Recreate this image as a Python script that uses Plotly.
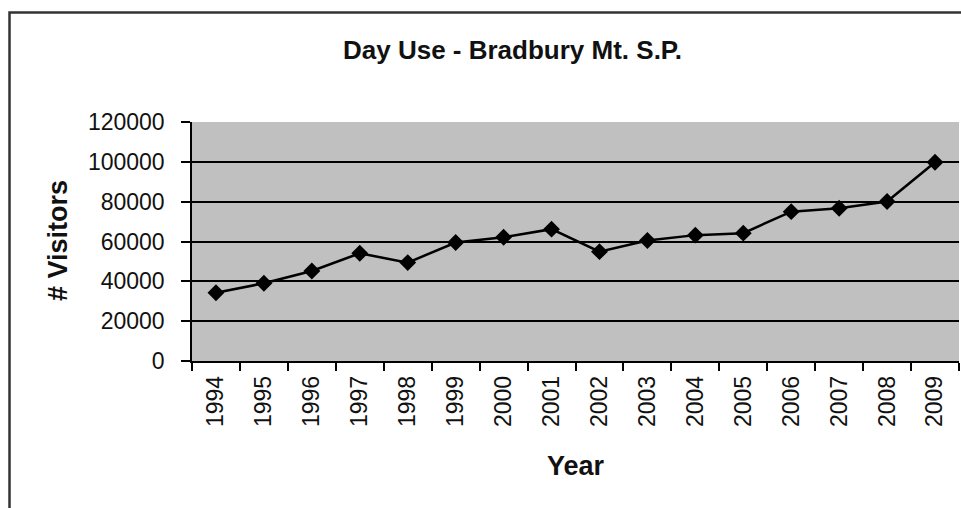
import plotly.graph_objects as go

years = ["1994", "1995", "1996", "1997", "1998", "1999", "2000", "2001",
         "2002", "2003", "2004", "2005", "2006", "2007", "2008", "2009"]
visitors = [34300, 39000, 45200, 54100, 49400, 59500, 62100, 66200,
            54900, 60500, 63200, 64200, 75000, 76700, 80100, 99800]
y_ticks = [0, 20000, 40000, 60000, 80000, 100000, 120000]

title_text = "Day Use - Bradbury Mt. S.P."
x_title = "Year"
y_title = "# Visitors"

FONT = "Liberation Sans, Arial, sans-serif"

fig = go.Figure()
fig.add_trace(go.Scatter(
    x=years, y=visitors, mode="lines+markers",
    line=dict(color="black", width=2.5),
    marker=dict(symbol="diamond", size=13, color="black"),
    showlegend=False, hoverinfo="x+y",
))

W, H = 961, 508
L, R, T, B = 192, 2, 122, 147
pw = W - L - R
ph = H - T - B

def px(x):
    return (x - L) / pw

def py(y):
    return (H - B - y) / ph

fig.update_layout(
    width=W, height=H,
    margin=dict(l=L, r=R, t=T, b=B, pad=0),
    paper_bgcolor="white",
    plot_bgcolor="#c0c0c0",
    font=dict(family=FONT, color="#111111", size=23),
    showlegend=False,
)

fig.update_xaxes(
    type="category",
    tickson="boundaries",
    ticks="outside", ticklen=8, tickwidth=1.5, tickcolor="black",
    tickangle=-90,
    ticklabelstandoff=4,
    tickfont=dict(size=23, family=FONT, color="#111111"),
    showline=True, linecolor="black", linewidth=1.5,
    showgrid=False, zeroline=False,
    range=[-0.5, len(years) - 0.5],
    fixedrange=True,
)

fig.update_yaxes(
    range=[0, 120000],
    tickvals=y_ticks,
    ticktext=[str(v) for v in y_ticks],
    ticks="outside", ticklen=9, tickwidth=1.5, tickcolor="black",
    ticklabelstandoff=12,
    tickfont=dict(size=23, family=FONT, color="#111111"),
    showline=True, linecolor="black", linewidth=1.5,
    showgrid=True, gridcolor="black", gridwidth=1.5,
    zeroline=False,
    fixedrange=True,
)

# Title
fig.add_annotation(
    text=title_text, xref="paper", yref="paper",
    x=px(512), y=py(50), xanchor="center", yanchor="middle",
    showarrow=False, font=dict(size=26, family=FONT, color="#111111", weight="bold"),
)
# Axis titles
fig.add_annotation(
    text=x_title, xref="paper", yref="paper",
    x=px(576), y=py(466), xanchor="center", yanchor="middle",
    showarrow=False, font=dict(size=27, family=FONT, color="#111111", weight="bold"),
)
fig.add_annotation(
    text=y_title, xref="paper", yref="paper",
    x=px(58), y=py(241), xanchor="center", yanchor="middle", textangle=-90,
    showarrow=False, font=dict(size=27, family=FONT, color="#111111", weight="bold"),
)

# Outer chart frame (extends beyond the visible window)
fig.add_shape(
    type="rect", xref="paper", yref="paper",
    x0=px(9.5), x1=px(1100), y0=py(12.5), y1=py(700),
    line=dict(color="#333333", width=2.5), fillcolor="rgba(0,0,0,0)",
    layer="below",
)

fig.write_html(
    "out.html",
    config={"displayModeBar": False},
    post_script="document.body.style.margin='0';document.body.style.overflow='hidden';",
)
